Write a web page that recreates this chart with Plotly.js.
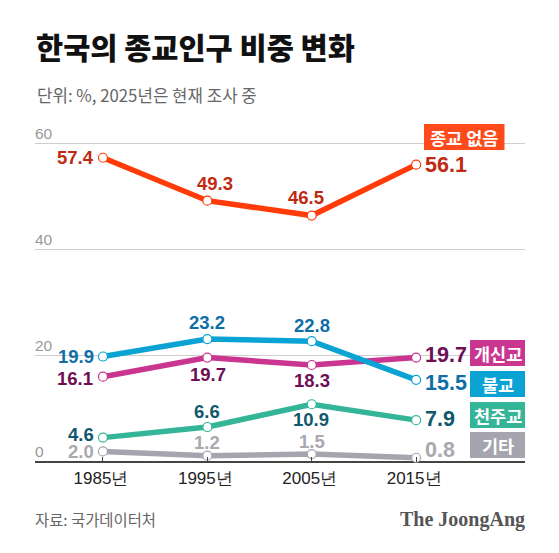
<!DOCTYPE html>
<html><head><meta charset="utf-8">
<script src="https://cdn.plot.ly/plotly-3.0.1.min.js"></script>
<style>html,body{margin:0;padding:0;background:#fff}#c{width:559px;height:553px}</style></head>
<body><div id="c"></div>
<script>
const years = [1985, 1995, 2005, 2015];
const tickLabels = ['1985년', '1995년', '2005년', '2015년'];
const noReligion = [57.4, 49.3, 46.5, 56.1];
const buddhism = [19.9, 23.2, 22.8, 15.5];
const protestant = [16.1, 19.7, 18.3, 19.7];
const catholic = [4.6, 6.6, 10.9, 7.9];
const other = [2.0, 1.2, 1.5, 0.8];

const KR = '"Noto Sans CJK KR"', NUM = '"Liberation Sans"';
const W = 559, H = 553, L = 35, R = 525, T = 124, B = 462;
const px = v => (v - L) / (R - L), py = v => (B - v) / (B - T);

const series = [
  {name:'기타', y:other, line:'#A6A4AF', text:'#A9A9AF', dx:[-7,0,0,7], dy:[0,13,13,8]},
  {name:'천주교', y:catholic, line:'#35B598', text:'#10586B', dx:[-7,0,-1,7], dy:[3,16,-15,1]},
  {name:'개신교', y:protestant, line:'#C9358F', text:'#6E0F55', dx:[-8,1,0,7], dy:[-2,-17,-15,3]},
  {name:'불교', y:buddhism, line:'#0BA3D3', text:'#0F6EA6', dx:[-7,0,0,7], dy:[0,17,16,-3]},
  {name:'종교 없음', y:noReligion, line:'#FF3C08', text:'#BF2A12', dx:[-7,8,-6,7], dy:[0,17,18,0]}
];

const traces = series.map(s => ({
  x: years, y: s.y, name: s.name, type: 'scatter', mode: 'lines+markers', cliponaxis: false,
  line: {color: s.line, width: 5.5},
  marker: {size: 9, color: '#fff', line: {color: s.line, width: 1.2}},
  hoverinfo: 'x+y'
}));

const annotations = [];
series.forEach(s => s.y.forEach((v, i) => {
  const last = i === 3, first = i === 0;
  annotations.push({
    x: years[i], y: v, xref: 'x', yref: 'y', showarrow: false,
    text: v.toFixed(1),
    xanchor: first ? 'right' : last ? 'left' : 'center',
    yanchor: 'middle', xshift: s.dx[i], yshift: s.dy[i],
    font: {family: NUM, size: last ? 21.5 : 18.5, weight: 700, color: s.text}
  });
}));

const boxes = [
  {name:'종교 없음', color:'#FF4A1C', x0:424, x1:504.5, y0:124, y1:150},
  {name:'개신교', color:'#C9358F', x0:470, x1:525, y0:340, y1:366},
  {name:'불교', color:'#0BA3D3', x0:470, x1:525, y0:371, y1:397},
  {name:'천주교', color:'#35B598', x0:470, x1:525, y0:402, y1:428},
  {name:'기타', color:'#A6A4AF', x0:470, x1:525, y0:432, y1:458}
];
const shapes = boxes.map(b => ({type:'rect', xref:'paper', yref:'paper', layer:'above',
  x0:px(b.x0), x1:px(b.x1), y0:py(b.y0), y1:py(b.y1), fillcolor:b.color, line:{width:0}}));
boxes.forEach(b => annotations.push({
  xref:'paper', yref:'paper', x:px((b.x0+b.x1)/2), y:py((b.y0+b.y1)/2), showarrow:false,
  text:b.name, xanchor:'center', yanchor:'middle',
  font:{family:KR, size:17.5, weight:700, color:'#fff'}
}));

[[35,95,'단위: %, 2025년은 현재 조사 중',KR,16.8,400,'#666','left'],
 [33,519,'자료: 국가데이터처',KR,15.4,400,'#666','left'],
 [527,519,'The JoongAng',"Liberation Serif",20,700,'#555','right']
].forEach(([x,y,text,family,size,weight,color,anchor]) => annotations.push({
  xref:'paper', yref:'paper', x:px(x), y:py(y), showarrow:false, text,
  xanchor:anchor, yanchor:'middle', font:{family,size,weight,color}
}));

Plotly.newPlot('c', traces, {
  width: W, height: H, paper_bgcolor:'#fff', plot_bgcolor:'#fff', showlegend:false,
  margin:{l:L, r:W-R, t:T, b:H-B, pad:0},
  title:{text:'한국의 종교인구 비중 변화', x:36/W, xanchor:'left', y:1-49/H, yanchor:'middle',
    font:{family:KR, size:29.5, weight:900, color:'#111'}},
  xaxis:{range:[1978.49,2025.43], tickmode:'array', tickvals:years, ticktext:tickLabels,
    ticks:'inside', ticklen:5, tickcolor:'#444', tickwidth:1, showgrid:false, zeroline:false,
    showline:false, ticklabelstandoff:4, ticklabelshift:-2, tickfont:{family:NUM, size:17, color:'#222'}, fixedrange:true},
  yaxis:{range:[0,63.77], tickmode:'array', tickvals:[0,20,40,60], ticktext:['0','20','40','60'],
    ticks:'', showgrid:true, gridcolor:'#CFCFCF', gridwidth:1, zeroline:true, zerolinecolor:'#444',
    zerolinewidth:2, showline:false, ticklabelposition:'inside', ticklabelshift:-10, ticklabelstandoff:-3,
    tickfont:{family:NUM, size:15.5, color:'#999'}, fixedrange:true},
  shapes, annotations
}, {displayModeBar:false, staticPlot:true});
</script></body></html>
